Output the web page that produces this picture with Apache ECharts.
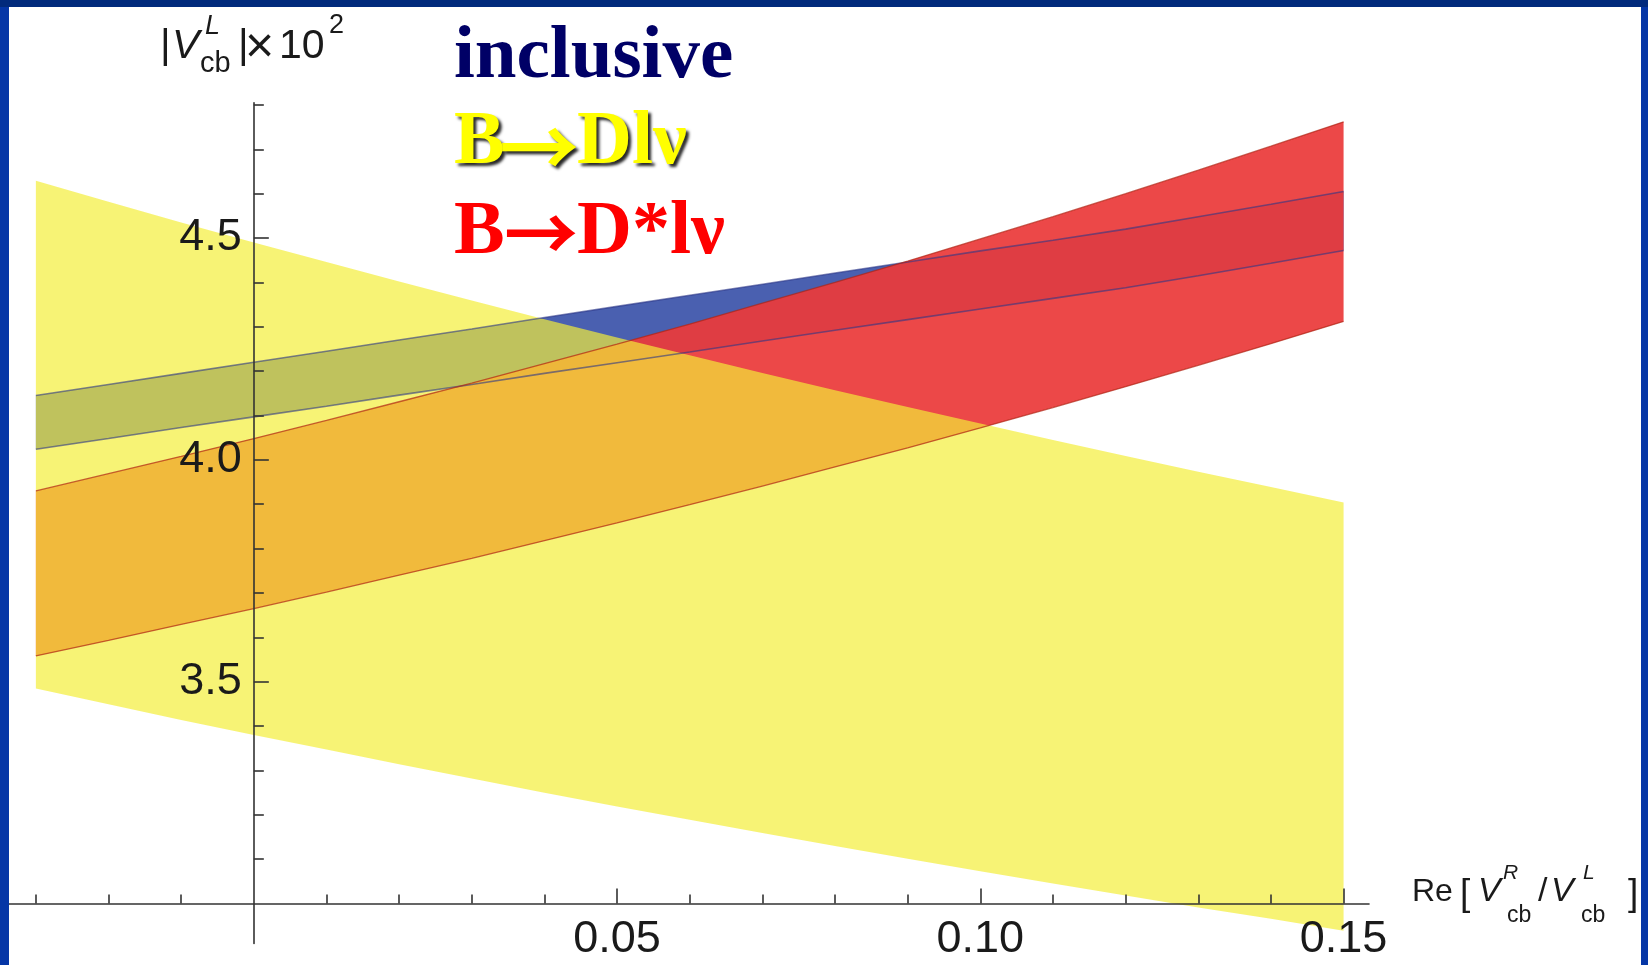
<!DOCTYPE html>
<html><head><meta charset="utf-8">
<script src="https://cdn.jsdelivr.net/npm/echarts@6/dist/echarts.min.js"></script>
<style>
html,body{margin:0;padding:0;width:1648px;height:965px;overflow:hidden;background:#0536a6;}
#topband{position:absolute;left:0;top:0;width:1648px;height:7px;background:#012a7c;}
#chart{position:absolute;left:9px;top:7px;width:1632px;height:958px;background:#fff;}
</style></head><body>
<div id="topband"></div><div id="chart"></div>
<script>
// ---- data ----
const xs = [-0.03,-0.02,-0.01,0.00,0.01,0.02,0.03,0.04,0.05,0.06,0.07,0.08,0.09,0.10,0.11,0.12,0.13,0.14,0.15];
// inclusive band
const incUpper = [4.145,4.170,4.195,4.220,4.245,4.270,4.295,4.321,4.346,4.371,4.396,4.421,4.446,4.471,4.495,4.520,4.548,4.576,4.605];
const incLower = [4.024,4.048,4.073,4.097,4.121,4.146,4.170,4.195,4.219,4.243,4.268,4.292,4.316,4.340,4.364,4.388,4.415,4.443,4.472];
// B -> D l nu band
const dUpper = [4.629,4.582,4.535,4.490,4.446,4.402,4.359,4.317,4.276,4.236,4.196,4.157,4.119,4.082,4.045,4.009,3.973,3.939,3.904];
const dLower = [3.485,3.449,3.414,3.380,3.347,3.314,3.282,3.250,3.219,3.189,3.159,3.130,3.101,3.073,3.045,3.018,2.991,2.966,2.939];
// B -> D* l nu band
const dsUpper = [3.930,3.969,4.008,4.048,4.089,4.131,4.173,4.217,4.261,4.306,4.353,4.400,4.448,4.498,4.548,4.600,4.653,4.707,4.762];
const dsLower = [3.558,3.593,3.629,3.665,3.702,3.740,3.778,3.818,3.858,3.899,3.941,3.984,4.027,4.072,4.118,4.165,4.213,4.262,4.312];
// ticks
const xMajorTicks = [0.05, 0.10, 0.15];
const xMinorTicks = [-0.03,-0.02,-0.01,0.01,0.02,0.03,0.04,0.06,0.07,0.08,0.09,0.11,0.12,0.13,0.14];
const yMajorTicks = [3.5, 4.0, 4.5];
const yMinorTicks = [3.1,3.2,3.3,3.4,3.6,3.7,3.8,3.9,4.1,4.2,4.3,4.4,4.6,4.7,4.8];
const legendLabels = ['inclusive', 'B\u2192Dl\u03bd', 'B\u2192D*l\u03bd'];

// ---- layout / style ----
const X_MIN = -0.0337, X_MAX = 0.1535, Y_MIN = 2.91, Y_MAX = 4.805;
const GRID_W = 1360, GRID_H = 840.8;
const AX = '#333333';
const LBL = '#1a1a1a';
// pixel offset of the axis crossing (x = 0, y = 3.0) inside the grid
const Y_AXIS_SHIFT = -(0 - X_MIN) / (X_MAX - X_MIN) * GRID_W;
const X_AXIS_SHIFT = -(3.0 - Y_MIN) / (Y_MAX - Y_MIN) * GRID_H;

function band(upper, lower, fill) {
  return {
    type: 'custom', coordinateSystem: 'cartesian2d', xAxisIndex: 0, yAxisIndex: 0,
    z: 2, silent: true, clip: true,
    data: [[xs[0], lower[0]]],
    renderItem: function (params, api) {
      const pts = [];
      for (let i = 0; i < xs.length; i++) pts.push(api.coord([xs[i], upper[i]]));
      for (let i = xs.length - 1; i >= 0; i--) pts.push(api.coord([xs[i], lower[i]]));
      return { type: 'polygon', shape: { points: pts }, style: { fill: fill } };
    }
  };
}
function edge(vals, color, width) {
  return {
    type: 'line', xAxisIndex: 0, yAxisIndex: 0, z: 3, silent: true,
    data: xs.map((x, i) => [x, vals[i]]),
    showSymbol: false, symbol: 'none',
    lineStyle: { color: color, width: width }
  };
}
function txtC(str, x, yMid, size, o) {
  o = o || {};
  const st = {
    text: str, fontSize: size, fontFamily: o.family || 'Liberation Sans',
    fontWeight: o.weight || 'normal', fontStyle: o.italic ? 'italic' : 'normal',
    fill: o.color || LBL, align: 'left', verticalAlign: 'middle',
    textAlign: 'left', textVerticalAlign: 'middle'
  };
  Object.assign(st, o.extra || {});
  const el = { type: 'text', x: x, y: yMid, z: 100, silent: true, style: st };
  if (o.scaleX) el.scaleX = o.scaleX;
  return el;
}
function txt(str, x, baseline, size, o) { return txtC(str, x, baseline - 0.33 * size, size, o); }

const SERIF_B = { family: 'Liberation Serif', weight: 'bold' };
const SHADOW = { textShadowColor: 'rgba(0,0,0,0.85)', textShadowBlur: 3, textShadowOffsetX: 3, textShadowOffsetY: 3 };
const ARROW = { family: 'Noto Sans CJK SC', weight: 'bold' };

const chart = echarts.init(document.getElementById('chart'), null, { renderer: 'canvas' });
const axisText = { fontSize: 45, fontFamily: 'Liberation Sans', color: LBL };
const option = {
  animation: false,
  backgroundColor: '#ffffff',
  grid: { left: 0, top: 95.7, width: GRID_W, height: GRID_H, containLabel: false, outerBoundsMode: 'none' },
  xAxis: [
    { type: 'value', min: X_MIN, max: X_MAX, position: 'bottom', offset: X_AXIS_SHIFT, z: 10,
      axisLine: { show: true, onZero: false, lineStyle: { color: AX, width: 1.6 } },
      axisTick: { show: true, inside: true, length: 15, customValues: xMajorTicks, lineStyle: { color: AX, width: 1.6 } },
      axisLabel: Object.assign({ show: true, customValues: xMajorTicks, margin: 14, formatter: v => v.toFixed(2) }, axisText),
      splitLine: { show: false } },
    { type: 'value', min: X_MIN, max: X_MAX, position: 'bottom', offset: X_AXIS_SHIFT, z: 10,
      axisLine: { show: false, onZero: false },
      axisTick: { show: true, inside: true, length: 9, customValues: xMinorTicks, lineStyle: { color: AX, width: 1.6 } },
      axisLabel: { show: false }, splitLine: { show: false } }
  ],
  yAxis: [
    { type: 'value', min: Y_MIN, max: Y_MAX, position: 'left', offset: Y_AXIS_SHIFT, z: 10,
      axisLine: { show: true, onZero: false, lineStyle: { color: AX, width: 1.6 } },
      axisTick: { show: true, inside: true, length: 15, customValues: yMajorTicks, lineStyle: { color: AX, width: 1.6 } },
      axisLabel: Object.assign({ show: true, customValues: yMajorTicks, margin: 12, formatter: v => v.toFixed(1) }, axisText),
      splitLine: { show: false } },
    { type: 'value', min: Y_MIN, max: Y_MAX, position: 'left', offset: Y_AXIS_SHIFT, z: 10,
      axisLine: { show: false, onZero: false },
      axisTick: { show: true, inside: true, length: 10, customValues: yMinorTicks, lineStyle: { color: AX, width: 1.6 } },
      axisLabel: { show: false }, splitLine: { show: false } }
  ],
  series: [
    band(incUpper, incLower, 'rgb(74,96,176)'),
    band(dsUpper, dsLower, 'rgba(235,58,58,0.93)'),
    band(dUpper, dLower, 'rgba(244,237,55,0.69)'),
    edge(incUpper, 'rgba(45,55,135,0.6)', 1.6),
    edge(incLower, 'rgba(45,55,135,0.6)', 1.6),
    edge(dsUpper, 'rgba(175,35,20,0.7)', 1.3),
    edge(dsLower, 'rgba(175,35,20,0.7)', 1.3)
  ],
  graphic: { elements: [
    // y axis name |V^L_cb| x 10^2
    txt('|', 151, 53, 41),
    txt('V', 163, 53, 41, { italic: true }),
    txt('L', 196, 28, 27, { italic: true }),
    txt('cb', 191, 67, 29),
    txt('|', 229, 53, 41),
    txtC('\u00d7', 236, 41, 50),
    txt('10', 270, 53, 41),
    txt('2', 320, 27, 27),
    // x axis name Re[V^R_cb / V^L_cb]
    txt('Re', 1403, 896, 32),
    txt('[', 1451, 900, 37),
    txt('V', 1469, 896, 34, { italic: true }),
    txt('R', 1494, 873, 21, { italic: true }),
    txt('cb', 1498, 916, 23),
    txt('/', 1529, 896, 34),
    txt('V', 1542, 896, 34, { italic: true }),
    txt('L', 1574, 873, 21, { italic: true }),
    txt('cb', 1572, 916, 23),
    txt(']', 1619, 900, 37),
    // legend labels
    txt(legendLabels[0], 445, 75, 75, { family: 'Liberation Serif', weight: 'bold', color: '#000066' }),
    txt('B', 445, 161, 76, Object.assign({ color: '#ffff00', extra: SHADOW }, SERIF_B)),
    txtC('\u2192', 490, 140, 80, Object.assign({ color: '#ffff00', extra: SHADOW }, ARROW)),
    txt('Dl\u03bd', 568, 161, 76, Object.assign({ color: '#ffff00', extra: SHADOW }, SERIF_B)),
    txt('B', 445, 251, 76, Object.assign({ color: '#ff0000' }, SERIF_B)),
    txtC('\u2192', 495, 226, 74, Object.assign({ color: '#ff0000' }, ARROW)),
    txt('D*l\u03bd', 568, 251, 76, Object.assign({ color: '#ff0000' }, SERIF_B))
  ] }
};
chart.setOption(option);
</script></body></html>
